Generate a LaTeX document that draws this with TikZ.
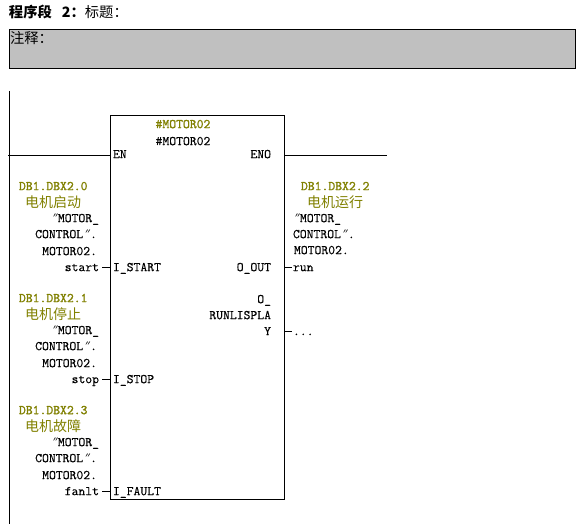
\documentclass[tikz,border=0pt]{standalone}
\usepackage{fontspec}
\setmonofont{Latin Modern Mono}
\newfontfamily\cjk{Noto Sans CJK SC}
\newfontfamily\pinfont[FakeBold=0.25]{Latin Modern Mono}
\newfontfamily\tagfont[FakeBold=1.4]{Latin Modern Mono}
\newfontfamily\quotefont[FakeSlant=0.45]{Noto Sans CJK SC}
\usepackage{xcolor}
\definecolor{olivetag}{HTML}{808000}
\definecolor{commentgray}{HTML}{C0C0C0}
\newcommand{\dq}{\makebox[7pt][c]{\hspace*{-4pt}\quotefont\fontsize{11pt}{11pt}\selectfont ″}}
\tikzset{
  every node/.style={inner sep=0pt, outer sep=0pt},
  every path/.style={line width=0.9pt},
  pintext/.style={font=\pinfont\fontsize{13.3pt}{16pt}\selectfont, yshift=-2pt},
  lefttext/.style={pintext, anchor=mid west},
  righttext/.style={pintext, anchor=mid east},
  tagtext/.style={font=\tagfont\fontsize{13.3pt}{16pt}\selectfont, text=olivetag, anchor=mid west, yshift=-2pt},
  zhtag/.style={font=\cjk\fontsize{14pt}{16pt}\selectfont, text=olivetag, anchor=mid west, yshift=-3pt},
  zhhead/.style={font=\cjk\fontsize{14.3pt}{16pt}\selectfont, anchor=mid west, yshift=-3pt},
}
\begin{document}
\begin{tikzpicture}[x=1pt,y=-1pt]
    \useasboundingbox (0,0) rectangle (578,529);
    % Title
    \node[zhhead] (title) at (9,12) {\textbf{程序段\hspace{10pt}2：}标题：};
    % Comment Box
    \node[draw, fill=commentgray, anchor=north west, minimum width=566pt, minimum height=39pt] (comment) at (9,29) {};
    \node[zhhead] (commenttext) at (10,38) {注释：};
    % Power Rail
    \coordinate (railtop) at (9,91);
    \coordinate (railbot) at (9,524);
    \draw (railtop) -- (railbot);
    % Block
    \node[draw, anchor=north west, minimum width=174pt, minimum height=384pt] (block) at (110,115) {};
    \node[tagtext, anchor=mid] (instag) at (183,124) {\#MOTOR02};
    \node[pintext, anchor=mid] (insname) at (183,141) {\#MOTOR02};
    % Enable Line
    \node[lefttext] (en) at (113,154) {EN};
    \node[righttext] (eno) at (271,154) {ENO};
    \coordinate (enin) at (8,155);
    \coordinate (enout) at (387,155);
    \draw (enin) -- (enin -| block.west);
    \draw (enout -| block.east) -- (enout);
    % Input Pins
    \foreach \pinname/\py/\pinlabel/\signal/\addr/\zh in {
        start/267/I\_START/start/DB1.DBX2.0/电机启动,
        stop/379/I\_STOP/stop/DB1.DBX2.1/电机停止,
        fault/491/I\_FAULT/fanlt/DB1.DBX2.3/电机故障} {
      \node[tagtext] (\pinname addr) at (19,\py-81) {\addr};
      \node[zhtag] (\pinname zh) at (25,\py-65) {\zh};
      \node[righttext] (\pinname a) at (99,\py-49) {\dq MOTOR\_};
      \node[righttext] (\pinname b) at (97,\py-33) {CONTROL\dq.};
      \node[righttext] (\pinname c) at (97,\py-16) {MOTOR02.};
      \node[righttext] (\pinname sig) at (99,\py) {\signal};
      \node[lefttext] (\pinname pin) at (113,\py) {\pinlabel};
      \coordinate (\pinname stub) at (102,\py);
      \draw (\pinname stub) -- (\pinname stub -| block.west);
    }
    % Output Pins
    \node[tagtext] (outaddr) at (301,186) {DB1.DBX2.2};
    \node[zhtag] (outzh) at (307,202) {电机运行};
    \node[lefttext] (outa) at (293,218) {\dq MOTOR\_};
    \node[lefttext] (outb) at (293,234) {CONTROL\dq.};
    \node[lefttext] (outc) at (294,250) {MOTOR02.};
    \node[lefttext] (outsig) at (293,267) {run};
    \node[righttext] (outpin) at (271,267) {O\_OUT};
    \coordinate (outstub) at (292,267);
    \draw (outstub -| block.east) -- (outstub);
    \node[righttext] (runa) at (271,299) {O\_};
    \node[righttext] (runb) at (271,315) {RUNLISPLA};
    \node[righttext] (runc) at (271,331) {Y};
    \node[lefttext] (rundots) at (293,331) {...};
    \coordinate (runstub) at (292,331);
    \draw (runstub -| block.east) -- (runstub);
\end{tikzpicture}
\end{document}
